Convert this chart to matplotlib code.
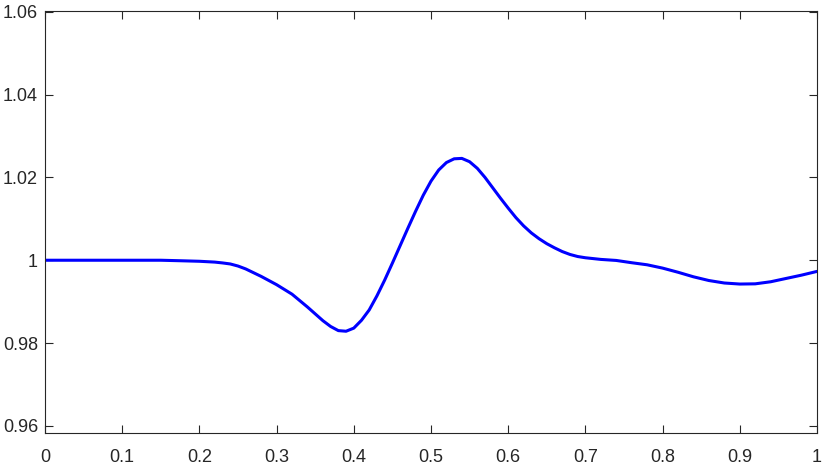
import numpy as np
import matplotlib
matplotlib.use('Agg')
import matplotlib.pyplot as plt

# values
x_vals = [0.0, 0.05, 0.1, 0.15, 0.175, 0.2, 0.22, 0.23, 0.24, 0.25, 0.26, 0.28,
          0.30, 0.32, 0.34, 0.36, 0.37, 0.38, 0.39, 0.40, 0.41, 0.42,
          0.43, 0.44, 0.45, 0.46, 0.47, 0.48, 0.49, 0.50, 0.51, 0.52,
          0.53, 0.54, 0.55, 0.56, 0.57, 0.58, 0.59, 0.60, 0.61, 0.62,
          0.63, 0.64, 0.65, 0.66, 0.67, 0.68, 0.69, 0.70, 0.72, 0.74,
          0.76, 0.78, 0.80, 0.82, 0.84, 0.86, 0.88, 0.90, 0.92, 0.94,
          0.96, 0.98, 1.00]
y_vals = [1.0, 1.0, 1.0, 1.0, 0.99988, 0.99975, 0.99955, 0.99935, 0.9991, 0.9986, 0.9979, 0.9961,
          0.9941, 0.9918, 0.9887, 0.9854, 0.9840, 0.98300, 0.98285, 0.9836, 0.9855, 0.9880,
          0.9914, 0.9952, 0.9993, 1.0035, 1.0077, 1.0118, 1.0157, 1.0191, 1.0218, 1.0236,
          1.0245, 1.0246, 1.0238, 1.0222, 1.0200, 1.0175, 1.0150, 1.0126, 1.0103, 1.0083,
          1.0066, 1.0052, 1.0040, 1.0030, 1.0021, 1.0014, 1.0009, 1.0006, 1.0002, 0.99995,
          0.9994, 0.9989, 0.9981, 0.9971, 0.9960, 0.9951, 0.9945, 0.99425, 0.9943, 0.9948,
          0.9956, 0.9964, 0.9973]

x_ticks = [0, 0.1, 0.2, 0.3, 0.4, 0.5, 0.6, 0.7, 0.8, 0.9, 1]
x_labels = ['0', '0.1', '0.2', '0.3', '0.4', '0.5', '0.6', '0.7', '0.8', '0.9', '1']
y_ticks = [0.96, 0.98, 1.0, 1.02, 1.04, 1.06]
y_labels = ['0.96', '0.98', '1', '1.02', '1.04', '1.06']

plt.rcParams['font.family'] = ['Liberation Sans', 'DejaVu Sans']
axcol = '#262626'

fig = plt.figure(figsize=(8.3, 4.67), dpi=100)
ax = fig.add_axes([0.0542, 0.0722, 0.9301, 0.9042])

ax.plot(x_vals, y_vals, color='#0000ff', linewidth=2.2,
        solid_joinstyle='round', solid_capstyle='round')

ax.set_xlim(0, 1)
ax.set_ylim(0.9582, 1.0602)
ax.set_xticks(x_ticks)
ax.set_xticklabels(x_labels)
ax.set_yticks(y_ticks)
ax.set_yticklabels(y_labels)

ax.tick_params(direction='in', length=6, width=0.8, colors=axcol,
               labelsize=13, top=True, right=True)
ax.tick_params(axis='x', pad=11)
ax.tick_params(axis='y', pad=5)
for s in ax.spines.values():
    s.set_color(axcol)
    s.set_linewidth(0.8)

fig.savefig('out.png', dpi=100)
